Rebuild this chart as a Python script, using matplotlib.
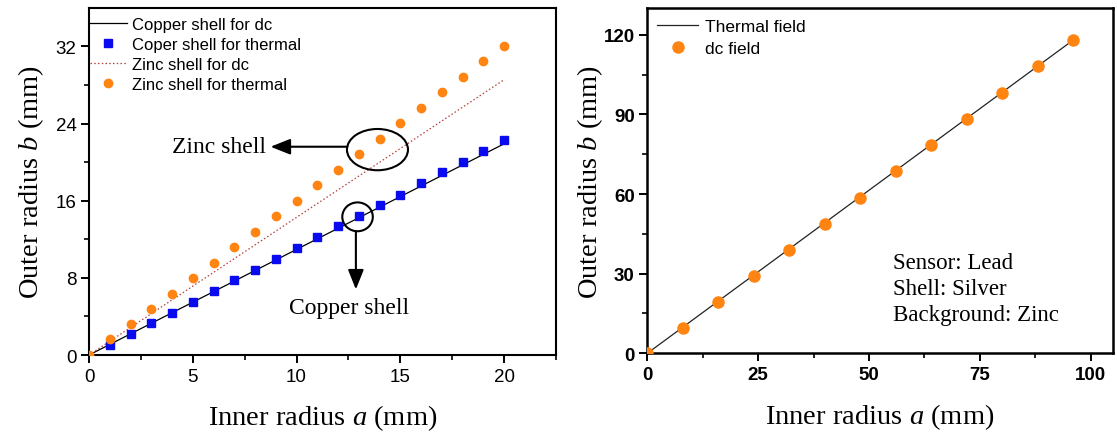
import matplotlib
matplotlib.use("Agg")
import matplotlib.pyplot as plt
from matplotlib.patches import Ellipse

plt.rcParams['mathtext.fontset'] = 'custom'
plt.rcParams['mathtext.rm'] = 'Liberation Serif'
plt.rcParams['mathtext.it'] = 'Liberation Serif:italic'

# ---------------- data: left panel ----------------
inner_a = [0, 1, 2, 3, 4, 5, 6, 7, 8, 9, 10, 11, 12, 13, 14, 15, 16, 17, 18, 19, 20]
copper_thermal_a = [1, 2, 3, 4, 5, 6, 7, 8, 9, 10, 11, 12, 13, 14, 15, 16, 17, 18, 19, 20]
copper_thermal_b = [1.0, 2.15, 3.3, 4.38, 5.49, 6.64, 7.78, 8.86, 10.0, 11.12, 12.23,
                    13.34, 14.45, 15.57, 16.64, 17.79, 18.94, 20.05, 21.2, 22.31]
zinc_thermal_b = [0.0, 1.63, 3.2, 4.76, 6.36, 7.96, 9.56, 11.19, 12.79, 14.38, 16.02,
                  17.62, 19.21, 20.81, 22.41, 24.01, 25.64, 27.24, 28.84, 30.47, 32.07]
copper_dc_a = [0, 20]
copper_dc_b = [0, 21.9]
zinc_dc_a = [0, 20]
zinc_dc_b = [0, 28.55]
left_xticks = [0, 5, 10, 15, 20]
left_yticks = [0, 8, 16, 24, 32]

# ---------------- data: right panel ----------------
dc_a = [0, 8, 16, 24, 32, 40, 48, 56, 64, 72, 80, 88, 96]
dc_b = [0, 9.42, 19.35, 29.28, 39.08, 48.76, 58.68, 68.6, 78.5, 88.3, 98.1, 108.1, 118.0]
thermal_a = [0, 96]
thermal_b = [0, 118.0]
right_xticks = [0, 25, 50, 75, 100]
right_yticks = [0, 30, 60, 90, 120]

ORANGE = '#FF8412'
BLUE = '#0A0AEE'
SERIF = 'Liberation Serif'
SANS = 'Liberation Sans'

fig = plt.figure(figsize=(11.17, 4.35), dpi=100)
axL = fig.add_axes([0.0797, 0.1816, 0.418, 0.798])
axR = fig.add_axes([0.5795, 0.1855, 0.4169, 0.7931])

ARROW = dict(arrowstyle='-|>,head_length=0.6,head_width=0.24', color='black', lw=1.5,
             mutation_scale=20, shrinkA=0, shrinkB=0)

# ---------- left ----------
axL.plot(copper_dc_a, copper_dc_b, color='black', lw=0.9, label='Copper shell for dc', zorder=2)
axL.plot(copper_thermal_a, copper_thermal_b, ls='none', marker='s', ms=5.4, color=BLUE,
         label='Coper shell for thermal', zorder=3)
axL.plot(zinc_dc_a, zinc_dc_b, color='#B5403A', lw=0.9, ls=(0, (1.2, 1.8)),
         label='Zinc shell for dc', zorder=2)
axL.plot(inner_a, zinc_thermal_b, ls='none', marker='o', ms=6, color=ORANGE,
         label='Zinc shell for thermal', zorder=3)
axL.set_xlim(0, 22.5)
axL.set_ylim(0, 36)
axL.set_xticks(left_xticks)
axL.set_yticks(left_yticks)
axL.set_xticks([2.5, 7.5, 12.5, 17.5, 22.5], minor=True)
axL.set_yticks([4, 12, 20, 28], minor=True)
for lab in axL.get_xticklabels() + axL.get_yticklabels():
    lab.set_fontfamily(SANS)
    lab.set_fontsize(13.5)
axL.set_xlabel(r'Inner radius $a$ (mm)', fontfamily=SERIF, fontsize=20.5, labelpad=13)
axL.set_ylabel(r'Outer radius $b$ (mm)', fontfamily=SERIF, fontsize=20.5, labelpad=7)
axL.legend(loc='upper left', bbox_to_anchor=(0.002, 0.973), frameon=False,
           prop={'family': SANS, 'size': 12}, handlelength=2.2, handletextpad=0.3,
           labelspacing=0.29, borderaxespad=0, borderpad=0)

# annotations
axL.add_patch(Ellipse((13.9, 21.3), 2.94, 4.28, fill=False, ec='black', lw=1.5, zorder=4))
axL.annotate('', xy=(8.75, 21.6), xytext=(12.45, 21.6), arrowprops=ARROW)
axL.text(8.55, 21.6, 'Zinc shell', ha='right', va='center', fontfamily=SERIF, fontsize=17)
axL.add_patch(Ellipse((12.94, 14.33), 1.47, 2.99, fill=False, ec='black', lw=1.5, zorder=4))
axL.annotate('', xy=(12.86, 6.8), xytext=(12.86, 12.83), arrowprops=ARROW)
axL.text(12.55, 4.95, 'Copper shell', ha='center', va='center', fontfamily=SERIF, fontsize=17)

# ---------- right ----------
axR.plot(thermal_a, thermal_b, color='#222222', lw=0.9, label='Thermal field', zorder=2)
axR.plot(dc_a, dc_b, ls='none', marker='o', ms=8, color=ORANGE, label='dc field', zorder=3)
axR.set_xlim(0, 105)
axR.set_ylim(0, 130)
axR.set_xticks(right_xticks)
axR.set_yticks(right_yticks)
axR.set_xticks([12.5, 37.5, 62.5, 87.5], minor=True)
axR.set_yticks([15, 45, 75, 105], minor=True)
for lab in axR.get_xticklabels() + axR.get_yticklabels():
    lab.set_fontfamily(SANS)
    lab.set_fontsize(13.5)
    lab.set_fontweight('bold')
axR.set_xlabel(r'Inner radius $a$ (mm)', fontfamily=SERIF, fontsize=20.5, labelpad=13)
axR.set_ylabel(r'Outer radius $b$ (mm)', fontfamily=SERIF, fontsize=20.5, labelpad=-1)
axR.legend(loc='upper left', bbox_to_anchor=(0.0215, 0.970), frameon=False,
           prop={'family': SANS, 'size': 12.5}, handlelength=2.36, handletextpad=0.4,
           labelspacing=0.39, borderaxespad=0, borderpad=0)
axR.text(55.5, 34.4, 'Sensor: Lead', ha='left', va='center', fontfamily=SERIF, fontsize=16.5)
axR.text(55.5, 24.6, 'Shell: Silver', ha='left', va='center', fontfamily=SERIF, fontsize=16.5)
axR.text(55.5, 14.8, 'Background: Zinc', ha='left', va='center', fontfamily=SERIF, fontsize=16.5)

for ax, w in ((axL, 1.5), (axR, 1.8)):
    for s in ax.spines.values():
        s.set_linewidth(w)
    ax.tick_params(which='major', direction='out', length=6, width=1.4, pad=3)
    ax.tick_params(which='minor', direction='out', length=3.8, width=1.2)

fig.savefig('out.png', dpi=100)
